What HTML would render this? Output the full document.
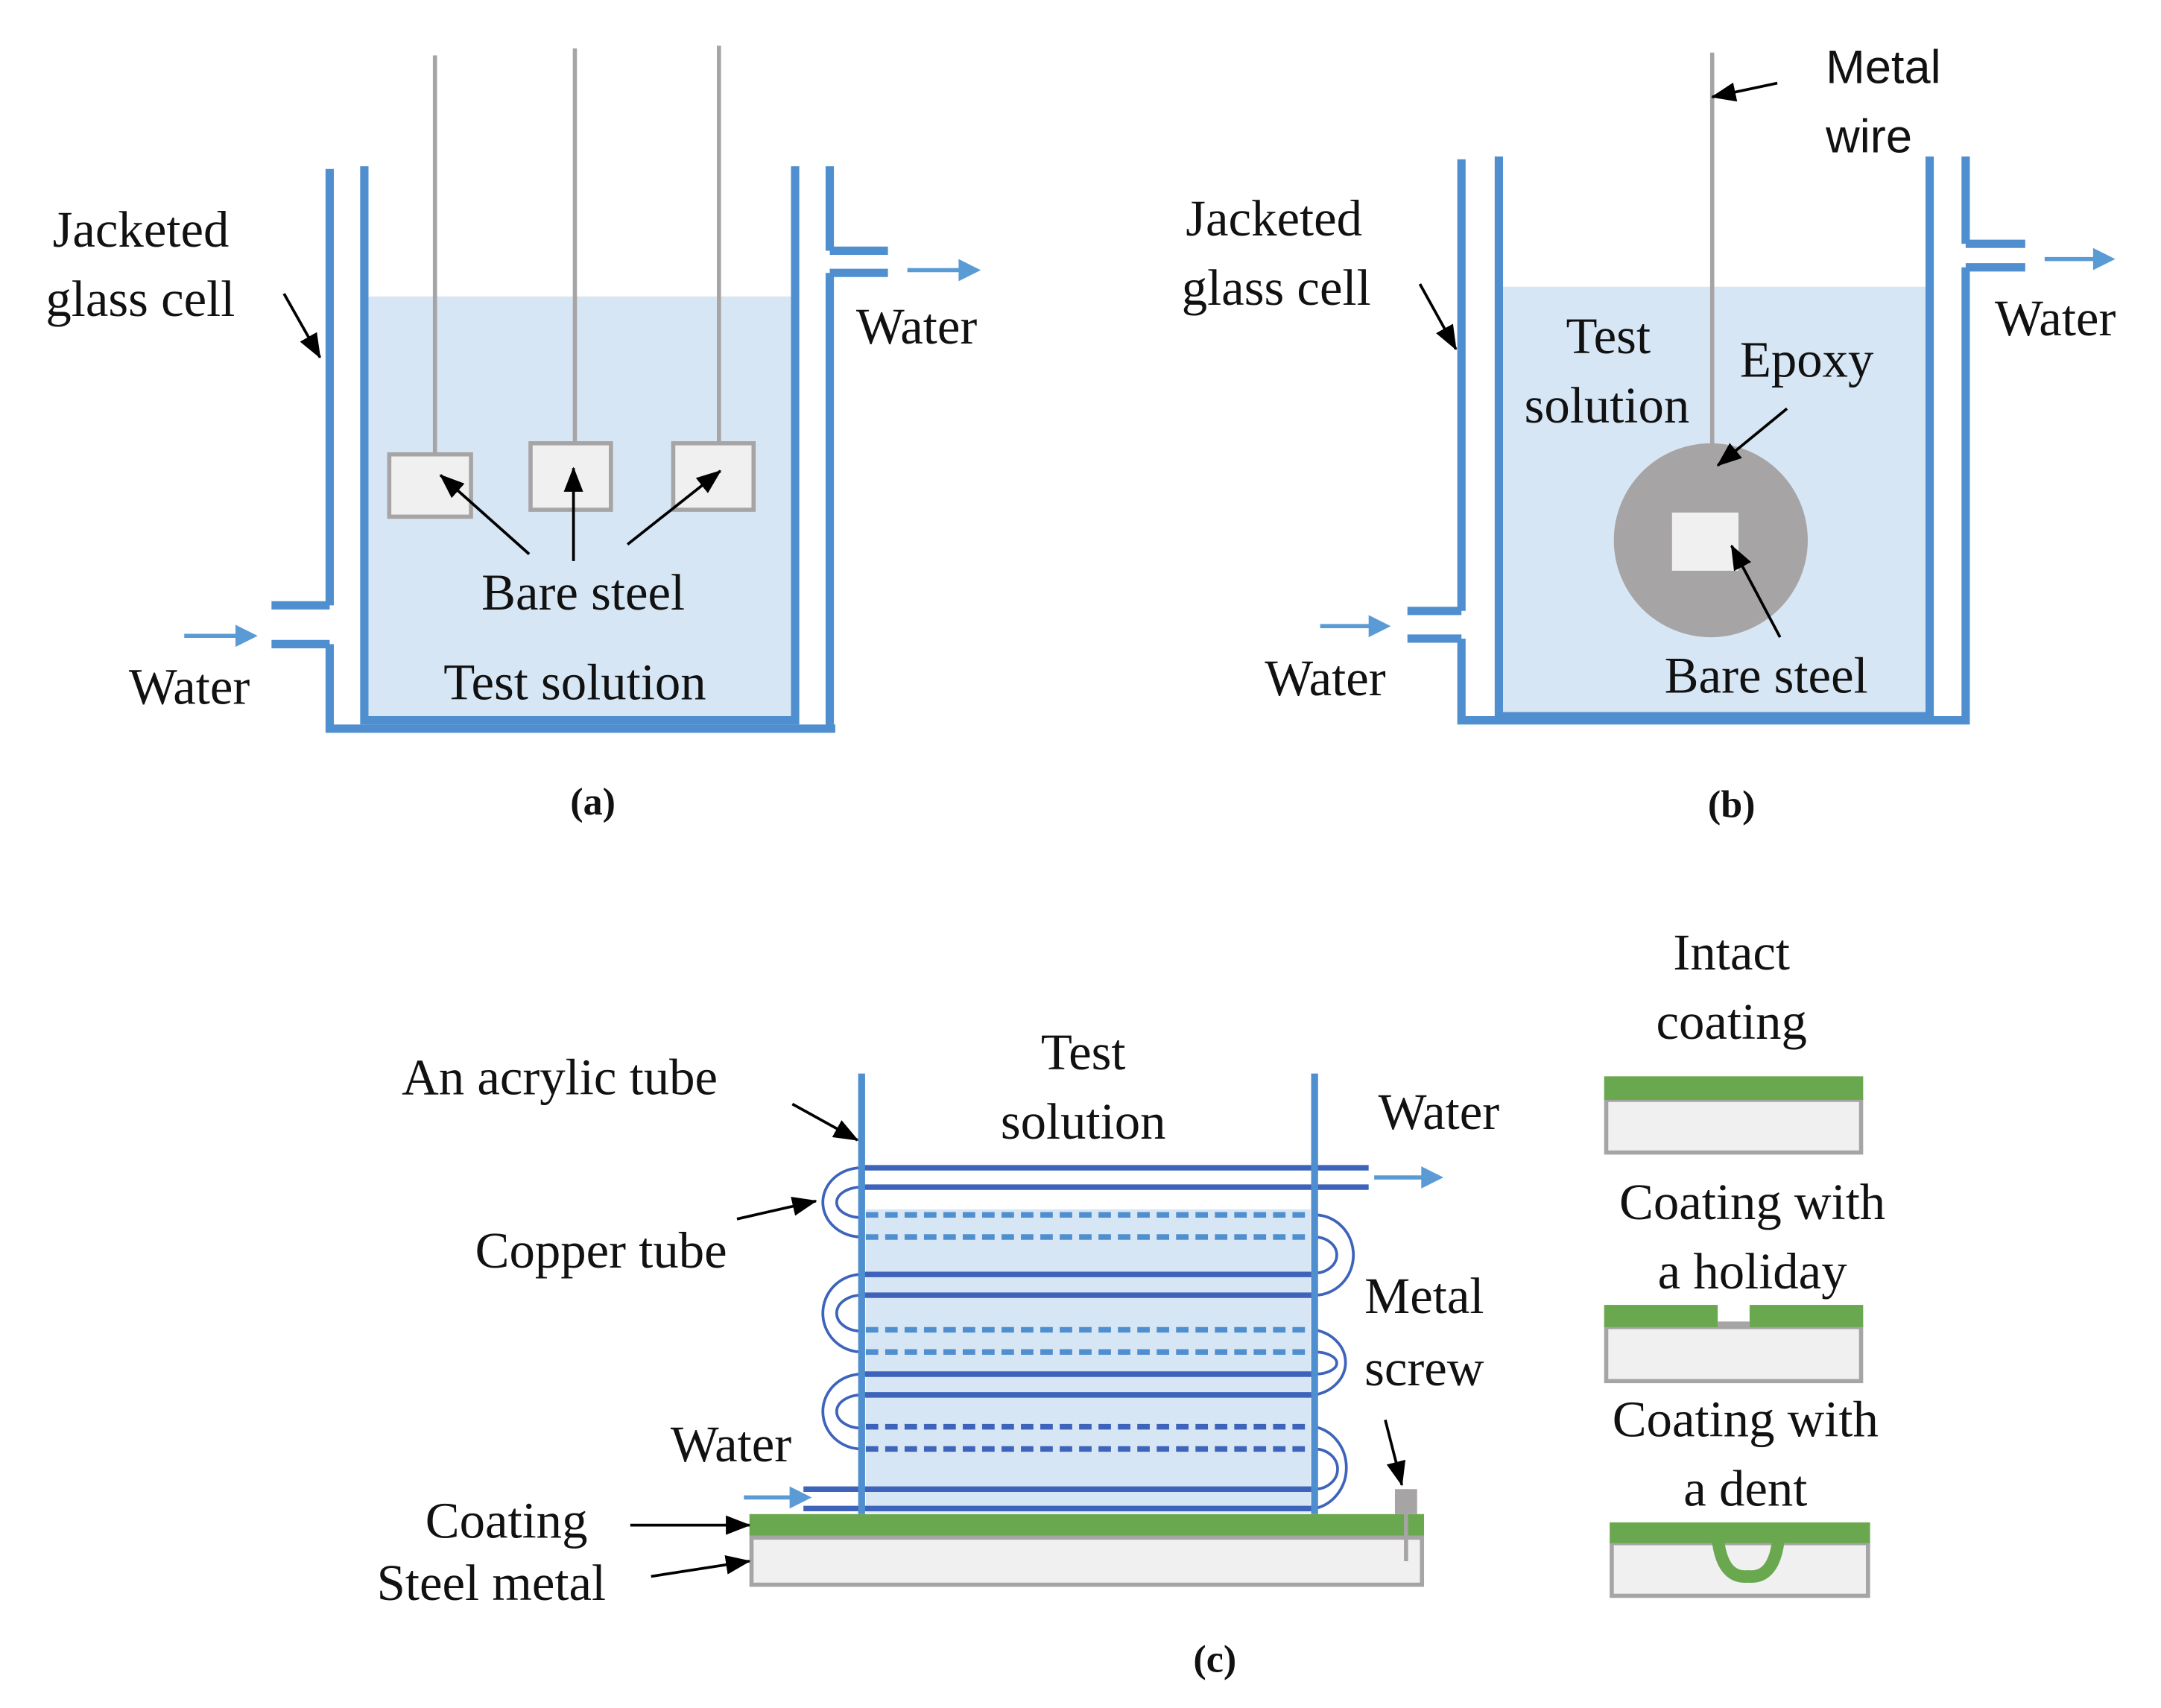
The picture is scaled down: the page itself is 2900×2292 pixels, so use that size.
<!DOCTYPE html>
<html><head><meta charset="utf-8"><style>
html,body{margin:0;padding:0;background:#fff;}
svg{display:block;}
text{font-family:"Liberation Serif",serif;font-size:37px;fill:#111;}
.s{font-family:"Liberation Sans",sans-serif;}
</style></head><body>
<svg width="2900" height="2292" viewBox="0 0 1560 1233" preserveAspectRatio="none" xmlns="http://www.w3.org/2000/svg">
<defs>
<marker id="ak" markerWidth="18" markerHeight="14" refX="17" refY="7" orient="auto" markerUnits="userSpaceOnUse" viewBox="0 0 18 14"><path d="M0,0 L18,7 L0,14z" fill="#000"/></marker>
</defs>
<!-- Panel a -->
<rect x="266" y="214" width="305" height="306" fill="#d7e6f4"/>
<g stroke="#4f8fcf" stroke-width="6" fill="none">
<path d="M238,122 V437 M238,465 V526 H603 M599,528 V197 M599,181 V120"/>
<path d="M263,120 V520 H574 V120"/>
<path d="M196,437 H238 M196,465 H238 M599,181 H641 M599,197 H641"/>
</g>
<g stroke="#5b9bd5" stroke-width="3"><line x1="133" y1="459" x2="172" y2="459"/><line x1="655" y1="195" x2="694" y2="195"/></g>
<path d="M170,451 L186,459 L170,467z M692,187 L708,195 L692,203z" fill="#5b9bd5"/>
<g stroke="#a6a4a4" stroke-width="3"><line x1="314" y1="40" x2="314" y2="328"/><line x1="415" y1="35" x2="415" y2="320"/><line x1="519" y1="33" x2="519" y2="320"/></g>
<g stroke="#a6a4a4" stroke-width="3" fill="#f0f0f0"><rect x="281" y="328" width="59" height="45"/><rect x="383" y="320" width="58" height="48"/><rect x="486" y="320" width="58" height="48"/></g>
<g stroke="#000" stroke-width="2" marker-end="url(#ak)">
<line x1="382" y1="400" x2="318" y2="343"/><line x1="414" y1="405" x2="414" y2="338"/><line x1="453" y1="393" x2="520" y2="340"/><line x1="205" y1="212" x2="231" y2="258"/>
</g>
<text x="421" y="440" text-anchor="middle">Bare steel</text>
<text x="415" y="505" text-anchor="middle">Test solution</text>
<text x="38" y="178">Jacketed</text>
<text x="33" y="228">glass cell</text>
<text x="618" y="248">Water</text>
<text x="93" y="508">Water</text>
<text x="428" y="588" text-anchor="middle" font-weight="bold" style="font-size:28px">(a)</text>

<!-- Panel b -->
<rect x="1085" y="207" width="305" height="309" fill="#d7e6f4"/>
<g stroke="#4f8fcf" stroke-width="6" fill="none">
<path d="M1055,115 V441 M1055,461 V520 H1422 M1419,522 V193 M1419,176 V113"/>
<path d="M1082,113 V517 H1393 V113"/>
<path d="M1016,441 H1055 M1016,461 H1055 M1419,176 H1462 M1419,193 H1462"/>
</g>
<g stroke="#5b9bd5" stroke-width="3"><line x1="953" y1="452" x2="990" y2="452"/><line x1="1476" y1="187" x2="1513" y2="187"/></g>
<path d="M988,444 L1004,452 L988,460z M1511,179 L1527,187 L1511,195z" fill="#5b9bd5"/>
<line x1="1236" y1="38" x2="1236" y2="330" stroke="#a6a4a4" stroke-width="3"/>
<ellipse cx="1235" cy="390" rx="70" ry="70" fill="#a6a4a4"/>
<rect x="1207" y="370" width="48" height="42" fill="#f0f0f0"/>
<g stroke="#000" stroke-width="2" marker-end="url(#ak)">
<line x1="1283" y1="60" x2="1236" y2="70"/><line x1="1290" y1="295" x2="1240" y2="336"/><line x1="1285" y1="460" x2="1250" y2="394"/><line x1="1025" y1="205" x2="1051" y2="252"/>
</g>
<text class="s" x="1318" y="60" style="font-size:34px">Metal</text>
<text class="s" x="1318" y="110" style="font-size:34px">wire</text>
<text x="856" y="170">Jacketed</text>
<text x="853" y="220">glass cell</text>
<text x="1161" y="255" text-anchor="middle">Test</text>
<text x="1160" y="305" text-anchor="middle">solution</text>
<text x="1256" y="272">Epoxy</text>
<text x="1275" y="500" text-anchor="middle">Bare steel</text>
<text x="913" y="502">Water</text>
<text x="1440" y="242">Water</text>
<text x="1250" y="590" text-anchor="middle" font-weight="bold" style="font-size:28px">(b)</text>

<!-- Panel c -->
<rect x="625" y="873" width="321" height="219" fill="#d7e6f4"/>
<g stroke="#3d63bb" stroke-width="4" fill="none">
<path d="M622,843 H988 M622,857 H988"/>
<path d="M622,920 H947 M622,935 H947 M622,992 H947 M622,1007 H947 M580,1075 H947 M580,1089 H947"/>
</g>
<g stroke="#4f8fcf" stroke-width="4" fill="none" stroke-dasharray="9,5">
<path d="M625,877 H947 M625,893 H947 M625,960 H947 M625,976 H947"/>
</g>
<g stroke="#3d63bb" stroke-width="4" fill="none" stroke-dasharray="9,5">
<path d="M625,1030 H947 M625,1046 H947"/>
</g>
<g stroke="#3d63bb" stroke-width="2" fill="none">
<path d="M622,843 A28,25 0 0 0 622,893 M622,857 A18,11 0 0 0 622,879"/>
<path d="M622,920 A28,28 0 0 0 622,976 M622,935 A18,13 0 0 0 622,961"/>
<path d="M622,992 A28,27 0 0 0 622,1046 M622,1007 A18,12 0 0 0 622,1031"/>
<path d="M949,877 A28,29 0 0 1 949,935 M949,893 A16,13 0 0 1 949,919"/>
<path d="M949,960 A28,24 0 0 1 949,1007 M949,976 A16,8 0 0 1 949,992"/>
<path d="M949,1030 A28,30 0 0 1 949,1089 M949,1046 A16,14 0 0 1 949,1075"/>
</g>
<g stroke="#4f8fcf" stroke-width="5"><line x1="622" y1="775" x2="622" y2="1093"/><line x1="949" y1="775" x2="949" y2="1093"/></g>
<rect x="541" y="1093" width="487" height="17" fill="#6aa84f"/>
<rect x="542.5" y="1110" width="484" height="34" fill="#f0f0f0" stroke="#a6a4a4" stroke-width="3"/>
<rect x="1007" y="1075" width="16" height="18" fill="#a6a4a4"/>
<line x1="1015" y1="1075" x2="1015" y2="1127" stroke="#a6a4a4" stroke-width="3"/>
<g stroke="#5b9bd5" stroke-width="3"><line x1="537" y1="1081" x2="572" y2="1081"/><line x1="992" y1="850" x2="1028" y2="850"/></g>
<path d="M570,1073 L586,1081 L570,1089z M1026,842 L1042,850 L1026,858z" fill="#5b9bd5"/>
<g stroke="#000" stroke-width="2" marker-end="url(#ak)">
<line x1="572" y1="797" x2="619" y2="823"/><line x1="532" y1="880" x2="589" y2="867"/><line x1="1000" y1="1025" x2="1012" y2="1072"/><line x1="455" y1="1101" x2="541" y2="1101"/><line x1="470" y1="1138" x2="541" y2="1127"/>
</g>
<text x="290" y="790">An acrylic tube</text>
<text x="343" y="915">Copper tube</text>
<text x="782" y="772" text-anchor="middle">Test</text>
<text x="782" y="822" text-anchor="middle">solution</text>
<text x="995" y="815">Water</text>
<text x="985" y="948">Metal</text>
<text x="985" y="1000">screw</text>
<text x="484" y="1055">Water</text>
<text x="307" y="1110">Coating</text>
<text x="272" y="1155">Steel metal</text>
<text x="877" y="1207" text-anchor="middle" font-weight="bold" style="font-size:28px">(c)</text>

<text x="1250" y="700" text-anchor="middle">Intact</text>
<text x="1250" y="750" text-anchor="middle">coating</text>
<rect x="1159.5" y="794" width="184" height="38" fill="#f0f0f0" stroke="#a6a4a4" stroke-width="3"/>
<rect x="1158" y="777" width="187" height="17" fill="#6aa84f"/>
<text x="1265" y="880" text-anchor="middle">Coating with</text>
<text x="1265" y="930" text-anchor="middle">a holiday</text>
<rect x="1159.5" y="958" width="184" height="39" fill="#f0f0f0" stroke="#a6a4a4" stroke-width="3"/>
<rect x="1158" y="942" width="82" height="16" fill="#6aa84f"/>
<rect x="1263" y="942" width="82" height="16" fill="#6aa84f"/>
<rect x="1240" y="954" width="23" height="4" fill="#a6a4a4"/>
<text x="1260" y="1037" text-anchor="middle">Coating with</text>
<text x="1260" y="1087" text-anchor="middle">a dent</text>
<rect x="1163.5" y="1114" width="185" height="38" fill="#f0f0f0" stroke="#a6a4a4" stroke-width="3"/>
<rect x="1162" y="1099" width="188" height="15" fill="#6aa84f"/>
<path d="M1240,1110 Q1243,1140 1262,1138 Q1281,1140 1284,1110" fill="none" stroke="#6aa84f" stroke-width="9"/>
</svg>
</body></html>
